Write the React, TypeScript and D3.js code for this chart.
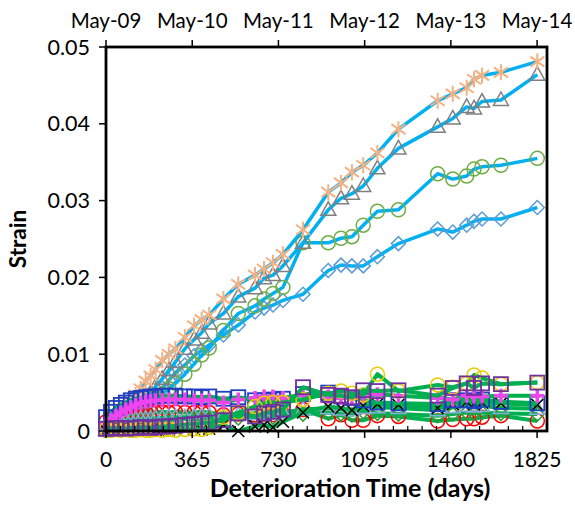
import React from "react";
import * as d3 from "d3";

// ---------- DATA ----------
const DAYS = [0, 21, 42, 63, 84, 105, 126, 147, 168, 189, 210, 238, 266, 294, 334, 373, 405, 437, 497, 560, 631, 669, 707, 749, 834, 941, 995, 1041, 1089, 1149, 1238, 1404, 1468, 1527, 1558, 1592, 1672, 1826];

// upper group (blue lines)
const starSeries = [0.0003, 0.0008, 0.0015, 0.0023, 0.0031, 0.0039, 0.0047, 0.0055, 0.0065, 0.0072, 0.0080, 0.0092, 0.0100, 0.0107, 0.0122, 0.0137, 0.0145, 0.0151, 0.0172, 0.0191, 0.0203, 0.0211, 0.0219, 0.0230, 0.0262, 0.0311, 0.0323, 0.0337, 0.0346, 0.0362, 0.0393, 0.0430, 0.0439, 0.0447, 0.0458, 0.0463, 0.0467, 0.0481];
const triangleSeries = [0.0001, 0.0003, 0.0006, 0.0010, 0.0015, 0.0021, 0.0028, 0.0035, 0.0043, 0.0050, 0.0058, 0.0068, 0.0079, 0.0090, 0.0107, 0.0119, 0.0128, 0.0140, 0.0153, 0.0175, 0.0186, 0.0199, 0.0203, 0.0215, 0.0245, 0.0288, 0.0303, 0.0309, 0.0319, 0.0342, 0.0368, 0.0396, 0.0407, 0.0422, 0.0420, 0.0429, 0.0431, 0.0464];
const circleSeries = [0.0001, 0.0003, 0.0004, 0.0007, 0.0009, 0.0013, 0.0017, 0.0022, 0.0027, 0.0033, 0.0040, 0.0048, 0.0055, 0.0062, 0.0074, 0.0087, 0.0099, 0.0108, 0.0131, 0.0153, 0.0163, 0.0172, 0.0179, 0.0187, 0.0245, 0.0245, 0.0251, 0.0253, 0.0268, 0.0286, 0.0288, 0.0335, 0.0328, 0.0332, 0.0341, 0.0344, 0.0346, 0.0355];
const diamondSeries = [0.0003, 0.0004, 0.0005, 0.0008, 0.0012, 0.0016, 0.0021, 0.0026, 0.0033, 0.0039, 0.0047, 0.0056, 0.0066, 0.0076, 0.0086, 0.0098, 0.0105, 0.0112, 0.0125, 0.0138, 0.0155, 0.0160, 0.0164, 0.0170, 0.0178, 0.0209, 0.0216, 0.0215, 0.0215, 0.0227, 0.0244, 0.0263, 0.0259, 0.0268, 0.0273, 0.0276, 0.0276, 0.0291];

// lower group (green lines)
const redCircleSeries = [0.0012, 0.0016, 0.0019, 0.0021, 0.0022, 0.0023, 0.0024, 0.0024, 0.0024, 0.0025, 0.0024, 0.0025, 0.0024, 0.0025, 0.0024, 0.0024, 0.0025, 0.0024, 0.0021, 0.0022, 0.0021, 0.0022, 0.0021, 0.0022, 0.0028, 0.0016, 0.0021, 0.0014, 0.0014, 0.0020, 0.0019, 0.0013, 0.0015, 0.0016, 0.0016, 0.0018, 0.0020, 0.0013];
const greenDiamondSeries = [0.0006, 0.0008, 0.0010, 0.0011, 0.0012, 0.0013, 0.0013, 0.0014, 0.0014, 0.0014, 0.0015, 0.0015, 0.0015, 0.0016, 0.0016, 0.0016, 0.0016, 0.0017, 0.0016, 0.0017, 0.0017, 0.0018, 0.0018, 0.0019, 0.0022, 0.0024, 0.0022, 0.0021, 0.0025, 0.0023, 0.0022, 0.0020, 0.0022, 0.0024, 0.0023, 0.0024, 0.0023, 0.0022];
const lavenderTriangleSeries = [0.0008, 0.0010, 0.0012, 0.0013, 0.0014, 0.0015, 0.0015, 0.0016, 0.0016, 0.0016, 0.0017, 0.0017, 0.0018, 0.0018, 0.0018, 0.0019, 0.0019, 0.0020, 0.0020, 0.0021, 0.0022, 0.0022, 0.0023, 0.0024, 0.0028, 0.0030, 0.0028, 0.0027, 0.0030, 0.0031, 0.0030, 0.0027, 0.0031, 0.0033, 0.0032, 0.0033, 0.0030, 0.0029];
const blackXSeries = [0.0001, 0.0002, 0.0001, 0.0002, 0.0001, 0.0002, 0.0002, 0.0001, 0.0002, 0.0002, 0.0001, 0.0002, 0.0002, 0.0003, 0.0002, 0.0003, 0.0002, 0.0003, 0.0008, 0.0000, 0.0006, 0.0008, 0.0005, 0.0012, 0.0024, 0.0032, 0.0030, 0.0027, 0.0033, 0.0035, 0.0034, 0.0030, 0.0035, 0.0038, 0.0035, 0.0037, 0.0036, 0.0034];
const blueSquareSeries = [0.0018, 0.0025, 0.0030, 0.0034, 0.0037, 0.0040, 0.0042, 0.0043, 0.0044, 0.0045, 0.0045, 0.0046, 0.0046, 0.0046, 0.0045, 0.0045, 0.0044, 0.0045, 0.0042, 0.0044, 0.0040, 0.0040, 0.0041, 0.0042, 0.0048, 0.0050, 0.0045, 0.0043, 0.0040, 0.0037, 0.0036, 0.0035, 0.0040, 0.0040, 0.0039, 0.0041, 0.0038, 0.0036];
const magentaPlusSeries = [0.0010, 0.0015, 0.0020, 0.0024, 0.0028, 0.0031, 0.0034, 0.0036, 0.0038, 0.0039, 0.0040, 0.0040, 0.0041, 0.0041, 0.0041, 0.0040, 0.0040, 0.0040, 0.0037, 0.0041, 0.0043, 0.0045, 0.0045, 0.0043, 0.0047, 0.0045, 0.0043, 0.0043, 0.0045, 0.0048, 0.0046, 0.0043, 0.0041, 0.0046, 0.0045, 0.0045, 0.0046, 0.0046];
const yellowCircleSeries = [0.0002, 0.0001, 0.0002, 0.0001, 0.0002, 0.0001, 0.0001, 0.0002, 0.0001, 0.0001, 0.0002, 0.0001, 0.0002, 0.0001, 0.0002, 0.0003, 0.0002, 0.0005, 0.0018, 0.0024, 0.0032, 0.0036, 0.0037, 0.0037, 0.0041, 0.0049, 0.0052, 0.0049, 0.0047, 0.0074, 0.0052, 0.0060, 0.0057, 0.0062, 0.0073, 0.0069, 0.0061, 0.0063];
const purpleSquareSeries = [0.0003, 0.0003, 0.0004, 0.0004, 0.0003, 0.0004, 0.0004, 0.0005, 0.0005, 0.0004, 0.0005, 0.0006, 0.0006, 0.0007, 0.0008, 0.0009, 0.0010, 0.0011, 0.0014, 0.0023, 0.0019, 0.0023, 0.0025, 0.0028, 0.0057, 0.0047, 0.0046, 0.0044, 0.0053, 0.0052, 0.0053, 0.0046, 0.0056, 0.0062, 0.0056, 0.0062, 0.0061, 0.0063];

const X_TICKS = [0, 365, 730, 1095, 1460, 1825];
const TOP_LABELS = ["May-09", "May-10", "May-11", "May-12", "May-13", "May-14"];
const Y_TICKS = [0, 0.01, 0.02, 0.03, 0.04, 0.05];
const Y_TICK_LABELS = ["0", "0.01", "0.02", "0.03", "0.04", "0.05"];

// ---------- STYLE ----------
const BLUE = "#00B0F0";
const GREEN = "#00B050";

const lowerSeries = [
  { values: redCircleSeries, marker: "circle", color: "#FF0000" },
  { values: greenDiamondSeries, marker: "diamond", color: "#339933" },
  { values: lavenderTriangleSeries, marker: "triangle", color: "#8EA9DB" },
  { values: blackXSeries, marker: "x", color: "#000000" },
  { values: blueSquareSeries, marker: "square", color: "#1F3FBF" },
  { values: magentaPlusSeries, marker: "plus", color: "#EE44EE" },
  { values: yellowCircleSeries, marker: "circle", color: "#E6CC00" },
  { values: purpleSquareSeries, marker: "square", color: "#7030A0" },
];

const upperSeries = [
  { values: diamondSeries, marker: "diamond", color: "#5B9BD5" },
  { values: circleSeries, marker: "circle", color: "#70AD47" },
  { values: triangleSeries, marker: "triangle", color: "#7F7F7F" },
  { values: starSeries, marker: "star", color: "#F4B183" },
];

const W = 575;
const H = 506;
const L = 106, R = 547, T = 47, B = 431;
const FONT = "Lato, 'Open Sans', sans-serif";

function Marker({ type, x, y, color }: { type: string; x: number; y: number; color: string }) {
  const t = `translate(${x},${y})`;
  switch (type) {
    case "circle":
      return <circle transform={t} r={7} fill="none" stroke={color} strokeWidth={1.5} />;
    case "diamond":
      return <path transform={t} d="M0,-7L7,0L0,7L-7,0Z" fill="none" stroke={color} strokeWidth={1.5} />;
    case "triangle":
      return <path transform={t} d="M0,-8L7.5,5.5L-7.5,5.5Z" fill="none" stroke={color} strokeWidth={1.5} />;
    case "square":
      return <rect transform={t} x={-7} y={-7} width={14} height={14} fill="none" stroke={color} strokeWidth={1.8} />;
    case "plus":
      return <path transform={t} d="M-7,0H7M0,-7V7" fill="none" stroke={color} strokeWidth={3.5} />;
    case "x":
      return <path transform={t} d="M-6,-6L6,6M-6,6L6,-6" fill="none" stroke={color} strokeWidth={1.5} />;
    case "star":
      return <path transform={t} d="M0,-8V8M-7,-5L7,5M-7,5L7,-5" fill="none" stroke={color} strokeWidth={2} />;
    default:
      return null;
  }
}

export default function App() {
  const x = d3.scaleLinear().domain([0, 1867]).range([L, R]);
  const y = d3.scaleLinear().domain([0, 0.05]).range([B, T]);
  const line = d3
    .line<number>()
    .x((_, i) => x(DAYS[i]))
    .y((d) => y(d));

  const minorTicks = d3.range(0, 1867, 365 / 6).filter((d) => Math.abs(d / (365 / 6) - Math.round(d / 365) * 6) > 0.01);

  return (
    <svg width={W} height={H} style={{ position: "absolute", left: 0, top: 0, background: "#fff" }} fontFamily={FONT}>
      <rect width={W} height={H} fill="#fff" />
      {upperSeries.map((s, si) => (
        <g key={"u" + si}>
          <path d={line(s.values) || ""} fill="none" stroke={BLUE} strokeWidth={3.5} strokeLinejoin="round" />
          {s.values.map((v, i) => (
            <Marker key={i} type={s.marker} x={x(DAYS[i])} y={y(v)} color={s.color} />
          ))}
        </g>
      ))}
      {lowerSeries.map((s, si) => (
        <g key={"l" + si}>
          <path d={line(s.values) || ""} fill="none" stroke={GREEN} strokeWidth={4} strokeLinejoin="round" />
          {s.values.map((v, i) => (
            <Marker key={i} type={s.marker} x={x(DAYS[i])} y={y(v)} color={s.color} />
          ))}
        </g>
      ))}

      <rect x={L} y={T} width={R - L} height={B - T} fill="none" stroke="#000" strokeWidth={2.8} />

      {X_TICKS.map((d) => (
        <line key={"bt" + d} x1={x(d)} x2={x(d)} y1={B} y2={B + 7} stroke="#000" strokeWidth={1.5} />
      ))}
      {minorTicks.map((d, i) => (
        <line key={"mt" + i} x1={x(d)} x2={x(d)} y1={B} y2={B - 5} stroke="#000" strokeWidth={1.2} />
      ))}
      {X_TICKS.map((d) => (
        <text key={"bl" + d} x={x(d)} y={B + 36} textAnchor="middle" fontSize={21} fill="#000">
          {d}
        </text>
      ))}
      {X_TICKS.map((d) => (
        <line key={"tt" + d} x1={x(d)} x2={x(d)} y1={T} y2={T - 7} stroke="#000" strokeWidth={1.5} />
      ))}
      {X_TICKS.map((d, i) => (
        <text key={"tl" + d} x={x(d)} y={28} textAnchor="middle" fontSize={20.5} fill="#000">
          {TOP_LABELS[i]}
        </text>
      ))}
      {Y_TICKS.map((d, i) => (
        <g key={"yt" + i}>
          <line x1={L - 7} x2={L} y1={y(d)} y2={y(d)} stroke="#000" strokeWidth={1.5} />
          <text x={90} y={y(d)} dy="0.35em" textAnchor="end" fontSize={21.5} fill="#000">
            {Y_TICK_LABELS[i]}
          </text>
        </g>
      ))}
      <text x={350} y={497} textAnchor="middle" fontSize={25} fontWeight="bold" fill="#000">
        Deterioration Time (days)
      </text>
      <text transform={`translate(26,239) rotate(-90)`} textAnchor="middle" fontSize={22.5} fontWeight="bold" fill="#000">
        Strain
      </text>
    </svg>
  );
}
